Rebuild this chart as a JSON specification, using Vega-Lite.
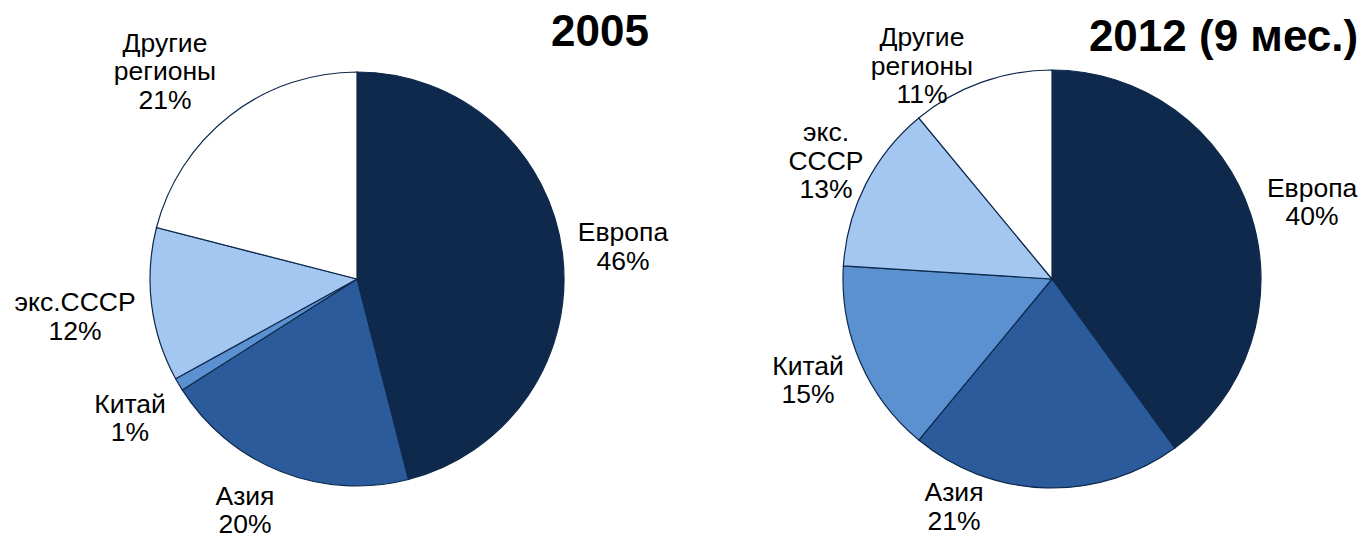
{
  "$schema": "https://vega.github.io/schema/vega-lite/v6.json",
  "padding": {"left": 0, "top": 10, "right": 0, "bottom": 0},
  "background": "white",
  "spacing": 0,
  "config": {"view": {"stroke": null}, "text": {"font": "Liberation Sans", "fontSize": 26.5, "lineBreak": "\n", "lineHeight": 28.5, "color": "#000000"}},
  "datasets": {
    "shares": [
      {"year": "2005", "region": "Европа", "share": 46, "ord": 1, "label": "Европа\n46%"},
      {"year": "2005", "region": "Азия", "share": 20, "ord": 2, "label": "Азия\n20%"},
      {"year": "2005", "region": "Китай", "share": 1, "ord": 3, "label": "Китай\n1%"},
      {"year": "2005", "region": "экс.СССР", "share": 12, "ord": 4, "label": "экс.СССР\n12%"},
      {"year": "2005", "region": "Другие регионы", "share": 21, "ord": 5, "label": "Другие\nрегионы\n21%"},
      {"year": "2012", "region": "Европа", "share": 40, "ord": 1, "label": "Европа\n40%"},
      {"year": "2012", "region": "Азия", "share": 21, "ord": 2, "label": "Азия\n21%"},
      {"year": "2012", "region": "Китай", "share": 15, "ord": 3, "label": "Китай\n15%"},
      {"year": "2012", "region": "экс.СССР", "share": 13, "ord": 4, "label": "экс.\nСССР\n13%"},
      {"year": "2012", "region": "Другие регионы", "share": 11, "ord": 5, "label": "Другие\nрегионы\n11%"}
    ]
  },
  "hconcat": [
    {
      "width": 714,
      "height": 436,
      "data": {"name": "shares"},
      "transform": [{"filter": "datum.year === '2005'"}],
      "title": {"text": "2005", "anchor": "middle", "frame": "group", "dx": 243, "dy": 59, "offset": 0, "baseline": "alphabetic", "fontSize": 44, "font": "Liberation Sans", "fontWeight": "bold", "color": "#000000"},
      "encoding": {
        "theta": {"field": "share", "type": "quantitative", "stack": true},
        "order": {"field": "ord", "type": "quantitative"}
      },
      "layer": [
        {
          "mark": {"type": "arc", "outerRadius": 207, "stroke": "#0E294B", "strokeWidth": 1.2},
          "encoding": {
            "color": {"field": "region", "type": "nominal", "legend": null,
              "scale": {"domain": ["Европа", "Азия", "Китай", "экс.СССР", "Другие регионы"], "range": ["#0E294B", "#2B5B9B", "#5B91D1", "#A4C7F1", "#FFFFFF"]}}
          }
        },
        {
          "mark": {"type": "text", "radius": 269.9, "dx": -1.8, "dy": -11.7},
          "encoding": {"text": {"condition": {"test": "datum.region === 'Европа'", "field": "label"}, "value": ""}}
        },
        {
          "mark": {"type": "text", "radius": 244.6, "dx": -22, "dy": -9.9},
          "encoding": {"text": {"condition": {"test": "datum.region === 'Азия'", "field": "label"}, "value": ""}}
        },
        {
          "mark": {"type": "text", "radius": 259.4, "dx": -3.7, "dy": -6.5},
          "encoding": {"text": {"condition": {"test": "datum.region === 'Китай'", "field": "label"}, "value": ""}}
        },
        {
          "mark": {"type": "text", "radius": 283.1, "dx": -1.1, "dy": -11},
          "encoding": {"text": {"condition": {"test": "datum.region === 'экс.СССР'", "field": "label"}, "value": ""}}
        },
        {
          "mark": {"type": "text", "radius": 303.5, "dx": -6, "dy": 4.8},
          "encoding": {"text": {"condition": {"test": "datum.region === 'Другие регионы'", "field": "label"}, "value": ""}}
        }
      ]
    },
    {
      "width": 676,
      "height": 436,
      "data": {"name": "shares"},
      "transform": [{"filter": "datum.year === '2012'"}],
      "title": {"text": "2012 (9 мес.)", "anchor": "middle", "frame": "group", "dx": 171.5, "dy": 82, "offset": 0, "baseline": "alphabetic", "fontSize": 44, "font": "Liberation Sans", "fontWeight": "bold", "color": "#000000"},
      "encoding": {
        "theta": {"field": "share", "type": "quantitative", "stack": true},
        "order": {"field": "ord", "type": "quantitative"}
      },
      "layer": [
        {
          "mark": {"type": "arc", "outerRadius": 209, "stroke": "#0E294B", "strokeWidth": 1.2},
          "encoding": {
            "color": {"field": "region", "type": "nominal", "legend": null,
              "scale": {"domain": ["Европа", "Азия", "Китай", "экс.СССР", "Другие регионы"], "range": ["#0E294B", "#2B5B9B", "#5B91D1", "#A4C7F1", "#FFFFFF"]}}
          }
        },
        {
          "mark": {"type": "text", "radius": 240, "dx": 31.8, "dy": -16.3},
          "encoding": {"text": {"condition": {"test": "datum.region === 'Европа'", "field": "label"}, "value": ""}}
        },
        {
          "mark": {"type": "text", "radius": 235.8, "dx": -90.6, "dy": -21.2},
          "encoding": {"text": {"condition": {"test": "datum.region === 'Азия'", "field": "label"}, "value": ""}}
        },
        {
          "mark": {"type": "text", "radius": 240, "dx": -23.7, "dy": -7.8},
          "encoding": {"text": {"condition": {"test": "datum.region === 'Китай'", "field": "label"}, "value": ""}}
        },
        {
          "mark": {"type": "text", "radius": 220, "dx": -30, "dy": -46.1},
          "encoding": {"text": {"condition": {"test": "datum.region === 'экс.СССР'", "field": "label"}, "value": ""}}
        },
        {
          "mark": {"type": "text", "radius": 273.1, "dx": -37.5, "dy": 16},
          "encoding": {"text": {"condition": {"test": "datum.region === 'Другие регионы'", "field": "label"}, "value": ""}}
        }
      ]
    }
  ]
}
